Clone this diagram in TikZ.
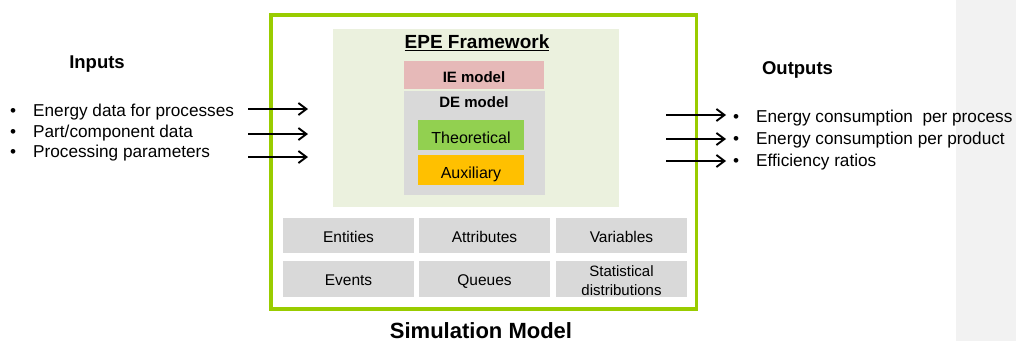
\documentclass[tikz,border=0pt]{standalone}
\usepackage{fontspec}
\setmainfont{Liberation Sans}
\usetikzlibrary{arrows.meta}
\definecolor{framegreen}{RGB}{153,204,0}
\definecolor{epebg}{RGB}{235,241,222}
\definecolor{iepink}{RGB}{230,185,184}
\definecolor{degray}{RGB}{217,217,217}
\definecolor{theogreen}{RGB}{146,208,80}
\definecolor{auxorange}{RGB}{255,192,0}
\definecolor{margingray}{RGB}{242,242,242}
\newcommand{\fs}[1]{\fontsize{#1pt}{#1pt}\selectfont}
\newcommand{\fsl}[2]{\fontsize{#1pt}{#2pt}\selectfont}
\newcommand{\bulitem}[1]{\makebox[16pt]{•}\hspace{12pt}#1}
\tikzset{
  box/.style={inner sep=0pt, outer sep=0pt, draw=none},
  cell/.style={box, fill=degray, minimum width=131pt, minimum height=35pt, align=center, font=\fs{15.5}},
  oneline/.style={text height=13pt, text depth=0pt},
  colored/.style={box, text height=16.8pt, text depth=0pt, minimum width=106pt, minimum height=30pt, font=\fs{16}},
  itemtext/.style={inner sep=0pt, anchor=west, text height=12.3pt, text depth=0pt, font=\fs{17.2}},
  heading/.style={inner sep=0pt, text height=13.2pt, text depth=0pt, font=\bfseries\fs{18.5}},
  flow/.style={line width=1.9pt, -{Straight Barb[length=8pt,width=12pt,line width=1.9pt]}}
}
\begin{document}
\begin{tikzpicture}[x=1pt,y=-1pt]
\useasboundingbox (0,0) rectangle (1016,341);
\fill[margingray] (956,0) rectangle (1016,341);
% outer frame
\node[box, draw=framegreen, line width=3.5pt, minimum width=425.5pt, minimum height=294pt] (frame) at (483.75,162) {};
% EPE framework
\node[box, fill=epebg, minimum width=286pt, minimum height=178pt] (epe) at (476,118) {};
\node[inner sep=0pt, font=\bfseries\fs{19}] (epetitle) at (477,43) {\underline{EPE Framework}};
\node[box, text height=14.2pt, text depth=0pt, fill=iepink, minimum width=140pt, minimum height=28pt, font=\bfseries\fs{15}] (ie) at (474,75) {IE model};
\node[box, fill=degray, minimum width=141pt, minimum height=104pt] (de) at (474.5,143) {};
\node[inner sep=0pt, text height=10.8pt, text depth=0pt, font=\bfseries\fs{15}] (detitle) at (474,101.7) {DE model};
\node[colored, fill=theogreen] (theo) at (471,135) {Theoretical};
\node[colored, fill=auxorange] (aux) at (471,170) {Auxiliary};
% grid
\node[cell, oneline] (entities) at (348.5,235.5) {Entities};
\node[cell, oneline] (attributes) at (484.5,235.5) {Attributes};
\node[cell, oneline] (variables) at (621.5,235.5) {Variables};
\node[cell, oneline, minimum height=36pt] (events) at (348.5,279) {Events};
\node[cell, oneline, minimum height=36pt] (queues) at (484.5,279) {Queues};
\node[cell, minimum height=36pt] (stat) at (621.5,279) {};
\node[inner sep=0pt, align=center, font={\fsl{15}{19}}] (stattxt) at (stat.center) [yshift=-1.5pt] {Statistical\\distributions};
\node[inner sep=0pt, text height=15.8pt, text depth=0pt, font=\bfseries\fs{22}] (simtitle) at (481,330.5) {Simulation Model};
% inputs
\node[heading] (inputs) at (97,61.5) {Inputs};
\node[itemtext] (in1) at (5,110.5) {\bulitem{Energy data for processes}};
\node[itemtext] (in2) at (5,131.3) {\bulitem{Part/component data}};
\node[itemtext] (in3) at (5,151.7) {\bulitem{Processing parameters}};
\coordinate (ia1) at (248,109); \coordinate (ib1) at (308,109);
\coordinate (ia2) at (248,134); \coordinate (ib2) at (308,134);
\coordinate (ia3) at (248,157); \coordinate (ib3) at (308,157);
\draw[flow] (ia1) -- (ib1);
\draw[flow] (ia2) -- (ib2);
\draw[flow] (ia3) -- (ib3);
% outputs
\node[heading] (outputs) at (797.5,68) {Outputs};
\node[itemtext] (out1) at (728,116.3) {\bulitem{Energy consumption\ \ per process}};
\node[itemtext] (out2) at (728,138.8) {\bulitem{Energy consumption per product}};
\node[itemtext] (out3) at (728,160) {\bulitem{Efficiency ratios}};
\coordinate (oa1) at (666,115); \coordinate (ob1) at (726,115);
\coordinate (oa2) at (666,139); \coordinate (ob2) at (726,139);
\coordinate (oa3) at (666,161); \coordinate (ob3) at (726,161);
\draw[flow] (oa1) -- (ob1);
\draw[flow] (oa2) -- (ob2);
\draw[flow] (oa3) -- (ob3);
\end{tikzpicture}
\end{document}
